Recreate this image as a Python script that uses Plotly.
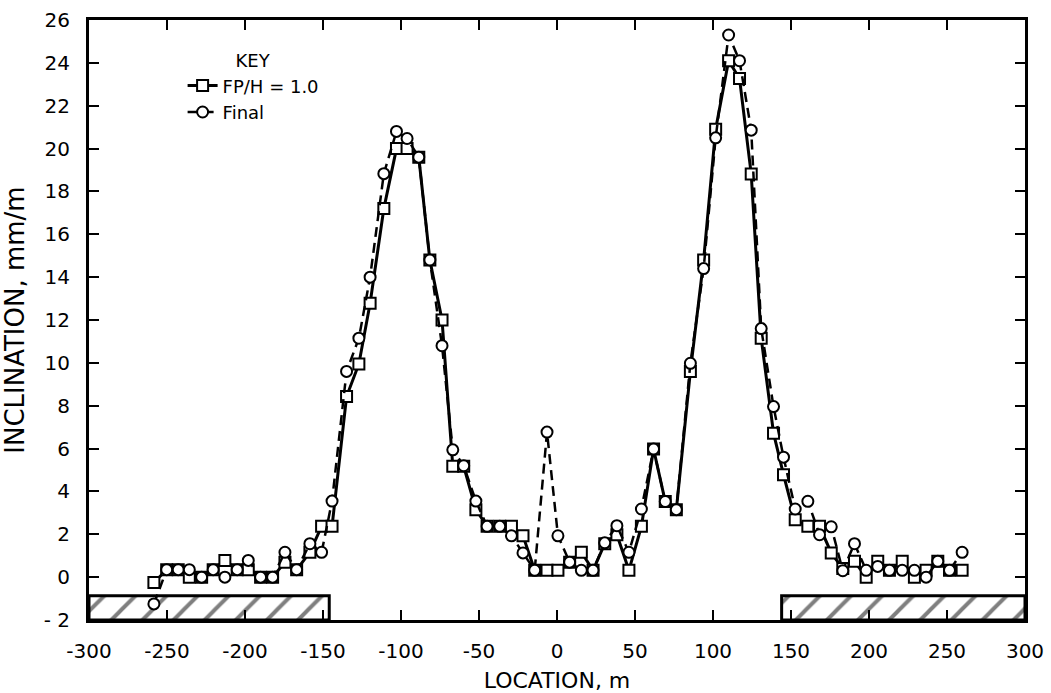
import plotly.graph_objects as go

# Location of each measurement station (m)
location_m = [
    -258.4, -250.2, -242.8, -235.7, -227.8, -220.4, -212.9, -205.0, -197.9, -190.0,
    -182.3, -174.4, -166.9, -158.4, -150.9, -144.2, -134.9, -127.0, -119.8, -111.0,
    -102.9, -96.1, -88.6, -81.5, -73.7, -66.8, -59.8, -52.0, -44.8, -36.7,
    -29.2, -21.8, -14.3, -6.4, 0.6, 8.1, 15.6, 23.1, 30.6, 38.4,
    46.1, 54.1, 61.9, 69.4, 76.5, 85.5, 94.0, 101.7, 110.0, 117.0,
    124.5, 130.9, 138.8, 145.2, 152.7, 160.8, 168.3, 175.8, 183.2, 190.7,
    198.2, 205.6, 213.1, 221.3, 229.1, 236.6, 244.1, 251.6, 259.7,
]

# Inclination, mm/m  -- FP/H = 1.0 (squares, solid)
incl_fph = [
    -0.25, 0.35, 0.35, 0.0, 0.0, 0.35, 0.78, 0.35, 0.35, 0.0,
    0.0, 0.7, 0.35, 1.16, 2.37, 2.37, 8.43, 9.95, 12.78, 17.2,
    20.0, 20.0, 19.6, 14.8, 12.0, 5.17, 5.17, 3.15, 2.37, 2.37,
    2.37, 1.93, 0.32, 0.32, 0.32, 0.7, 1.16, 0.32, 1.56, 1.98,
    0.32, 2.37, 5.98, 3.53, 3.15, 9.6, 14.8, 20.9, 24.1, 23.27,
    18.81, 11.15, 6.72, 4.78, 2.68, 2.37, 2.37, 1.13, 0.4, 0.74,
    0.0, 0.74, 0.32, 0.74, 0.0, 0.32, 0.74, 0.32, 0.32,
]

# Inclination, mm/m  -- Final (circles, dashed)
incl_final = [
    -1.25, 0.35, 0.35, 0.35, 0.0, 0.35, 0.0, 0.35, 0.78, 0.0,
    0.0, 1.16, 0.35, 1.56, 1.16, 3.55, 9.6, 11.15, 14.0, 18.83,
    20.8, 20.47, 19.6, 14.8, 10.8, 5.94, 5.2, 3.55, 2.37, 2.37,
    1.93, 1.13, 0.32, 6.77, 1.93, 0.7, 0.32, 0.32, 1.6, 2.4,
    1.16, 3.18, 5.98, 3.53, 3.15, 9.98, 14.4, 20.5, 25.3, 24.1,
    20.86, 11.6, 7.96, 5.6, 3.18, 3.54, 1.98, 2.35, 0.3, 1.56,
    0.32, 0.5, 0.32, 0.32, 0.32, 0.0, 0.74, 0.32, 1.16,
]

# Hatched support zones (m, mm/m)
zone_left_x = [-300, -146]
zone_right_x = [144, 300]
zone_y = [-2, -0.87]

x_tick_vals = [-300, -250, -200, -150, -100, -50, 0, 50, 100, 150, 200, 250, 300]
x_tick_text = ["-300", "-250", "-200", "-150", "-100", "-50", "0", "50", "100", "150", "200", "250", "300"]
y_tick_vals = [-2, 0, 2, 4, 6, 8, 10, 12, 14, 16, 18, 20, 22, 24, 26]
y_tick_text = ["- 2", "0", "2", "4", "6", "8", "10", "12", "14", "16", "18", "20", "22", "24", "26"]

FONT = "DejaVu Sans"
fig = go.Figure()

hatch = dict(shape="/", fgcolor="black", bgcolor="white", size=22, solidity=0.18)
for zx in (zone_left_x, zone_right_x):
    fig.add_trace(go.Scatter(
        x=[zx[0], zx[1], zx[1], zx[0], zx[0]],
        y=[zone_y[0], zone_y[0], zone_y[1], zone_y[1], zone_y[0]],
        mode="lines", fill="toself", fillcolor="white", fillpattern=hatch,
        line=dict(color="black", width=3), showlegend=False, hoverinfo="skip",
    ))

fig.add_trace(go.Scatter(
    x=location_m, y=incl_fph, mode="lines+markers", name="FP/H = 1.0",
    line=dict(color="black", width=3),
    marker=dict(symbol="square", size=11, color="white", line=dict(color="black", width=2)),
))
fig.add_trace(go.Scatter(
    x=location_m, y=incl_final, mode="lines+markers", name="Final",
    line=dict(color="black", width=2.5, dash="10px,6px"),
    marker=dict(symbol="circle", size=11, color="white", line=dict(color="black", width=2)),
))

axis_common = dict(
    showgrid=False, zeroline=False, showline=True, linecolor="black", linewidth=3,
    mirror="ticks", ticks="inside", ticklen=10, tickwidth=1.5, tickcolor="black",
    tickfont=dict(family=FONT, size=20, color="black"), automargin=False,
)

fig.update_layout(
    width=1051, height=693,
    margin=dict(l=89, r=26, t=20, b=73),
    paper_bgcolor="white", plot_bgcolor="white",
    font=dict(family=FONT, color="black"),
    xaxis=dict(range=[-300, 300], tickvals=x_tick_vals, ticktext=x_tick_text,
               ticklabelstandoff=11,
               title=dict(text="LOCATION, m", font=dict(family=FONT, size=22)),
               **axis_common),
    yaxis=dict(range=[-2, 26], tickvals=y_tick_vals, ticktext=y_tick_text,
               ticklabelstandoff=12,
               title=dict(text="INCLINATION, mm/m", font=dict(family=FONT, size=26)),
               **axis_common),
    legend=dict(
        x=0.1, y=0.96, xanchor="left", yanchor="top",
        bgcolor="rgba(0,0,0,0)", borderwidth=0,
        font=dict(family=FONT, size=18, color="black"),
        title=dict(text="KEY", side="top center", font=dict(family=FONT, size=18)),
        tracegroupgap=0,
    ),
)

fig.write_html("out.html")
